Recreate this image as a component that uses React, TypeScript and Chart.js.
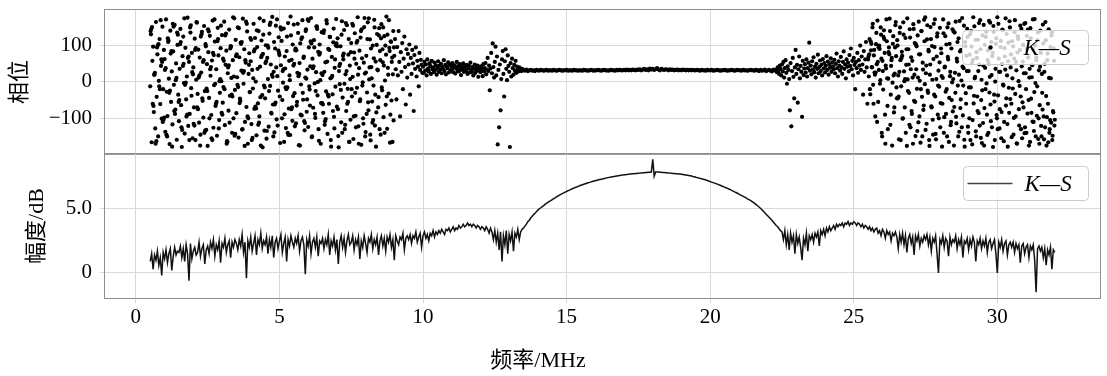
import React, { useEffect, useRef } from "react";
import { Chart, registerables } from "chart.js";

Chart.register(...registerables);

// ---------------- data ----------------
const SERIES_LABEL = "K\u2014S";
const X_TITLE = "频率/MHz";
const PHASE_TITLE = "相位";
const MAG_TITLE = "幅度/dB";

const X_MIN = -1.075;
const X_MAX = 33.575;
const X_TICKS = [0, 5, 10, 15, 20, 25, 30];

const PHASE_MIN = -198;
const PHASE_MAX = 198;
const PHASE_TICKS = [-100, 0, 100];
const PHASE_TICK_LABELS = ["\u2212100", "0", "100"];

const MAG_MIN = -1.95;
const MAG_MAX = 9.27;
const MAG_TICKS = [0, 5];
const MAG_TICK_LABELS = ["0", "5.0"];

// phase (deg), sampled on a regular frequency grid (MHz)
const FINE_STEP = 0.025;
const COARSE_STEP = 0.05;

const PHASE_A_START = 0.5; // 0.5 – 8.975 MHz, fully scattered
const phaseA = [
  -12, 131, -166, 58, 97, -83, 20, -128, 165, -41, 76, -150, 3, 118, -61, 44, -101, 152, -20, 88,
  63, -137, 172, -27, -94, 110, 9, -171, 141, -55, 29, -117, 84, -8, 157, -76, 51, -159, 102, -35,
  -108, 36, 146, -64, -179, 71, 125, -3, -142, 94, -48, 15, 177, -121, 55, -88, 136, -17, 80, -155,
  40, -70, 119, -160, 6, 163, -33, 89, -112, 67, -145, 26, 138, -52, -98, 154, -25, 104, -132, 49,
  -176, 82, -44, 127, 17, -91, 59, 169, -126, -9, 111, -66, 35, -148, 149, 73, -105, -30, 93, 2,
  129, -57, -14, 166, -119, 47, 86, -163, 24, -79, 144, -38, 99, 11, -140, 60, -100, 175, -22, 116,
  -86, 13, 150, -153, 68, -46, 108, 31, -131, 174, -5, 90, -110, 53, -69, 139, -170, 22, 79, -28,
  57, -116, 33, -18, 160, -74, 121, 1, -147, 96, -59, 140, -95, 42, -175, 114, -36, 77, 168, -134,
  -45, 101, -156, 66, 8, -123, 133, -11, 48, -87, 179, -62, 28, -139, 92, 155, -103, 16, -24, 123,
  74, -168, 46, 113, -50, -2, 147, -89, 37, -127, 85, -15, 162, -73, 18, -146, 128, 61, -107, -39,
  158, -31, 87, -114, -65, 25, 135, -174, 52, 106, -7, -92, 170, -49, 70, -133, 12, 145, -82, 34,
  -124, 95, -21, 43, 176, -152, 64, -71, 115, -4, -99, 27, 153, -37, 83, -162, 103, 5, -58, 137,
  19, -85, 142, -118, 54, -26, 161, -143, 91, -60, 124, 10, -178, 69, -34, 109, -96, 39, -13, 173,
  -68, 120, -149, 30, -6, 98, -111, 167, -43, 62, 143, -130, 21, -80, 156, -19, 75, -165, 45, -104,
  107, -40, 14, -157, 81, 134, -93, 50, -16, 178, -122, 38, -53, 122, -173, 65, -1, -115, 151, 23,
  -138, 72, -29, 164, -78, 7, 117, -161, 41, -54, 100, -10, 171, -120, 56, -84, 132, 32, -42, 148,
  85, -145, 159, -23, 54, -97, 126, 4, -63, 180, -129, 39, -32, 94, -167, 112, -51, 67, 21, -106,
];

const PHASE_A2_START = 0.5125; // interleaved bins, 0.5125 – 8.9875 MHz
const phaseA2 = [
  140, 146, 151, -60, -66, 20, 25, -170, -163, 95, 101, 104, -12, -20, 170, 62, 55, -110, -104, -98,
  33, 38, -145, -150, 120, 114, -30, -24, 78, 85, -178, 160, 152, -80, -88, 5, 11, 136, 130, -55,
  -50, 104, 110, -125, -132, 44, 50, 175, -8, -2, -95, -90, 66, 70, -160, 150, 156, -38, 27, 21,
  -115, -120, 88, 93, 165, -70, -75, 12, 18, -175, 125, 131, -45, 55, 60, -140, -134, 98, -18, -25,
  145, 139, -100, 35, 41, -155, -160, 80, 74, 172, -5, -60, -55, 112, 118, -128, 2, 8, 155, -85,
  -90, 64, 58, -20, 128, 133, -170, -165, 40, 46, -112, 92, 97, -35, -40, 178, 15, -148, -143, 71,
  76, -8, -14, 148, -58, -52, 105, 110, -130, 25, 30, -176, 60, 166, 160, -95, -100, 47, -28, 121,
  116, -160, -154, 10, 84, 90, -68, -73, 142, 36, -118, -112, 175, -42, 68, 73, -180, 130, -10, -15,
  52, 57, -135, 100, 94, -25, 157, 163, -85, 20, 14, -150, 110, -62, -57, 40, 172, -120, 86, 80,
  -40, 150, 144, -100, 30, 35, -165, 70, -15, -20, 125, -140, -146, 58, 5, 180, -75, -70, 103, 45,
  50, -122, 92, 87, -55, 160, 16, 22, -175, -90, 118, 123, -30, 66, -108, -113, 140, 9, -48, 172,
  168, -12, -65, 112, 106, -150, 38, 43, 95, -88, -25, 152, 146, 0, -130, 75, 80, -170, 24, -58,
  -62, 135, 28, -108, -102, 170, 56, -35, -40, 88, 124, -160, 12, 17, -80, 147, -128, 62, 100, 106,
  98, -75, -180, 44, 50, -22, 130, -140, 72, 78, -5, -118, 162, 30, -60, -55, 118, -165, 8, 82,
  -20, 160, 155, -95, 64, -30, -125, 108, 113, 20, -170, 86, -48, 140, 145, -10, -100, 53, 176, -150,
  26, -88, 118, -56, 175, 40, -145, 92, 10, -112, -105, 65, 150, -35, -178, 102, 34, -70, 128, -130,
  60, 120, -15, 90, 150, 45, -140, 100, 75, -40, 130, 20, 170, 85, -90, 110, 55, -165, 140, 95,
];

const PHASE_B_START = 9.0; // 9.0 – 9.975 MHz, converging
const phaseB = [
  72, 118, 35, -48, 96, 18, 140, 55, -95, 82, 28, 107, -20, 64, 125, 41, -62, 90, 12, 77,
  48, 103, -35, 66, 22, 88, 51, -80, 74, 36, 95, 15, 58, 42, -12, 80, 33, 61, 47, 25,
];

const PHASE_C_START = 10.0; // 10.0 – 13.475 MHz, clustered
const phaseC = [
  42, 25, 55, 31, 48, 18, 62, 37, 29, 51, 44, 22, 58, 35, 40, 27, 53, 33, 46, 20,
  39, 57, 28, 45, 34, 50, 24, 41, 36, 60, 30, 47, 21, 43, 38, 54, 26, 49, 32, 44,
  35, 52, 27, 40, 46, 23, 38, 55, 31, 43, 29, 49, 36, 19, 42, 33, 51, 28, 39, 45,
  30, 47, 22, 37, 44, 26, 53, 34, 28, 41, 18, 36, 48, 25, 39, 31, 45, 14, 33, 40,
  27, 43, 35, 16, 49, 29, 38, 52, 21, 34, 66, 30, 45, -23, 37, 80, 24, 106, 41, 12,
  55, 97, 18, 70, -172, 33, -125, 48, -78, 8, 62, 85, 22, -40, 57, 90, 36, 5, 73, 44,
  28, -179, 52, 15, 64, 38, 20, 47, 31, 58, 25, 42, 35, 29, 40, 33, 37, 30, 36, 32,
];

const PHASE_D_START = 13.5; // 13.5 – 22.25 MHz, stable
const phaseD = [
  33, 31, 34, 30, 32, 33, 31, 32, 30, 33, 32, 31, 33, 32, 31, 32, 33, 31, 32, 32,
  31, 33, 32, 31, 32, 33, 32, 31, 32, 32, 33, 31, 32, 32, 31, 33, 32, 32, 31, 32,
  32, 31, 33, 32, 32, 31, 32, 33, 32, 31, 32, 32, 33, 32, 31, 32, 33, 32, 32, 31,
  32, 33, 32, 32, 31, 33, 32, 33, 32, 32, 33, 32, 34, 32, 33, 32, 34, 33, 32, 34,
  33, 35, 32, 34, 36, 33, 35, 32, 37, 34, 36, 33, 35, 38, 34, 32, 36, 34, 33, 35,
  34, 32, 35, 33, 34, 32, 33, 34, 32, 33, 32, 34, 33, 32, 33, 32, 33, 32, 33, 32,
  32, 33, 32, 31, 33, 32, 32, 31, 33, 32, 32, 33, 31, 32, 32, 33, 32, 31, 32, 32,
  33, 32, 31, 32, 32, 33, 32, 31, 32, 33, 32, 32, 31, 33, 32, 32, 31, 32, 33, 32,
  32, 31, 33, 32, 30, 33, 31, 32, 34, 30, 32, 33, 31, 29, 34, 32,
];

const PHASE_E_START = 22.3; // 22.3 – 25.475 MHz, spreading
const phaseE = [
  34, 27, 40, 31, 22, 45, 36, 18, 48, 29, 55, 12, 38, 60, 25, -5, 43, 33, 8, -78,
  52, -122, 30, 66, 14, -45, 40, 88, 22, 47, -57, 35, 70, 10, 44, 28, -96, 58, 19, 37,
  49, 26, 62, 15, 38, 53, 108, 31, 45, 21, 57, 34, 68, 27, 42, 12, 50, 36, 75, 24,
  41, 59, 30, 47, 18, 63, 37, 52, 26, 44, 71, 33, 56, 20, 48, 39, 65, 28, 54, 43,
  35, 61, 24, 50, 78, 38, 15, 57, 45, 31, 69, 40, 22, 55, 84, 36, 48, 10, 62, 42,
  53, 29, 74, 44, 92, 35, 58, 18, 66, 47, -20, 55, 38, 80, 25, 60, 45, 100, 33, 70,
  48, -35, 85, 28, 62, 110, 40, -60,
];

const PHASE_F_START = 25.5; // 25.5 – 32.0 MHz, scattered
const phaseF = [
  62, 15, 118, -34, 87, 41, 150, -8, 73, 26, -95, 104, 49, 169, -55, 33, 91, 5, 130, -140,
  58, -21, 142, 80, -170, 37, 112, -66, 9, 95, 174, -118, 44, 66, -2, 126, -84, 23, 156, 71,
  -45, 100, 18, -158, 135, 60, -12, 83, -101, 164, 29, -70, 121, 47, -176, 7, 90, -30, 145, -125,
  68, -88, 12, 159, -52, 107, -149, 35, -19, 128, -111, 76, 3, -167, 140, -41, 53, -77, 171, -6,
  -132, 45, 117, -24, 88, -160, 20, 151, -67, 99, -104, 63, -35, 172, -143, 8, 125, -90, 31, -13,
  149, -58, 79, -178, 11, 134, -97, 42, -27, 103, -150, 69, 161, -44, 16, -119, 92, -1, -81, 139,
  -69, 25, 166, -114, 56, -10, 120, -137, 84, -48, 4, 176, -92, 38, -159, 110, -31, 72, 146, -123,
  30, -100, 131, -15, 97, -172, 61, -59, 153, 14, -136, 82, -40, 116, -86, 48, 170, -154, 6, -23,
  -113, 157, -72, 39, 124, -4, -146, 87, 51, -29, 163, -108, 19, 71, -179, 138, -54, 1, 105, -91,
  178, -37, 64, -128, 28, 113, -83, 144, -7, -163, 93, 34, -65, 132, -116, 57, -16, 167, -47, 76,
  -152, 10, 98, -99, 137, -33, 55, -169, 81, 118, -75, -11, 155, -130, 43, -56, 102, 24, -141, 162,
  -20, 127, -87, 67, -175, 36, 148, -46, 13, -109, 89, -135, 173, -3, 60, -93, 115, -157, 32, -64,
  141, -121, 22, -76, 106, -158, 50, 165, -39, -97, 78, -166, 11, -130, 96, -112, 137, -148, -84, 58,
  -104,
];

const PHASE_F2_START = 25.5125; // interleaved bins, 25.5125 – 31.9875 MHz
const phaseF2 = [
  70, 76, -20, 112, 105, 40, 160, -60, 88, 20, 26, 135, -110, 55, 95, 100, -5, 150, 64, -150,
  30, 124, 118, -90, 45, 172, 10, -130, 82, 76, 140, -35, 60, -175, 105, 18, -70, 95, 165, -15,
  115, -45, -40, 28, 150, -160, 66, 72, -100, 130, 2, 8, -140, 90, 175, -25, 48, -118, 122, 35,
  -80, 58, -170, 146, 20, -55, 104, 98, -135, 12, 166, -95, 76, -20, 140, -150, 34, -65, 112, 178,
  24, -115, 156, -30, 84, -176, 48, 118, -70, 6, -145, 160, 96, -40, -158, 70, 134, -10, -100, 54,
  -125, 92, 16, -60, 172, -140, 40, 126, -88, -20, 150, 62, -165, 105, 28, -110, -50, 145, 8, -175,
  136, -30, -96, 64, 110, -150, 20, 168, -72, 88, -125, 42, -10, 155, -178, 98, -60, 30, 124, -140,
  -15, 75, -160, 140, 52, -105, 178, -38, 10, 116, -150, 66, -80, 30, 162, -120, 90, -50, -168, 128,
  45, -175, 102, -20, 138, -90, 60, -140, 168, 14, -62, 110, -125, 80, 154, -35, -160, 36, 120, -100,
  -130, 160, 28, -75, 96, -155, 50, 142, -10, -110, 70, 175, -45, 18, -178, 108, -85, 150, 40, -60,
  112, -18, -145, 64, 170, -95, 32, -170, 126, 2, -120, 88, -40, 146, -155, 56, -70, 160, -125, 24,
  -140, 90, 144, -50, 12, -165, 120, -85, 46, 172, -110, -28, 100, -150, 68, -12, 136, -100, -170, 42,
  80, -150, -30, 158, -95, 28, -125, 115, -175, 60, -60, 145, -140, -105, 10, 128, -160, -80, 92, -120,
];

// magnitude (dB), 0.05 MHz grid
const MAG_A_START = 0.5; // 0.5 – 10.45
const magA = [
  0.9, 1.5, 0.3, 1.4, 1.0, 1.7, 0.6, 1.2, -0.2, 1.6, 1.1, 1.8, 0.8, 1.5, 1.9, 0.2, 1.3, 2.0, 1.4, 1.7,
  1.6, 2.1, 1.2, 1.9, 0.9, 2.2, 1.5, -0.6, 2.3, 1.1, 1.7, 2.0, 1.4, 1.6, 2.4, 1.3, 1.9, 2.2, 0.7, 1.8,
  2.1, 1.5, 2.4, 1.9, 2.6, 1.3, 2.2, 1.8, 2.5, 0.8, 2.3, 2.0, 2.7, 1.6, 2.2, 2.5, 1.2, 2.4, 2.0, 2.6,
  2.3, 1.8, 2.6, 2.1, 3.0, 1.6, 2.4, -0.4, 2.5, 2.0, 2.8, 1.7, 2.3, 2.9, 1.4, 2.6, 2.2, 3.1, 1.9, 2.5,
  2.2, 2.8, 1.5, 2.6, 2.0, 2.9, 1.2, 2.4, 2.7, 1.9, 2.5, 3.0, 1.6, 2.3, 2.8, 0.9, 2.6, 2.1, 2.9, 2.4,
  2.0, 2.7, 2.3, 2.9, 1.7, 2.5, 2.8, 2.2, -0.1, 2.6, 2.1, 2.9, 1.5, 2.4, 2.7, 2.0, 2.8, 1.3, 2.5, 2.3,
  2.7, 1.9, 2.6, 2.2, 3.0, 1.4, 2.5, 2.1, 2.8, 1.8, 2.6, 0.7, 2.4, 2.9, 2.0, 2.7, 1.6, 2.5, 3.0, 2.2,
  2.4, 2.9, 1.8, 2.6, 2.2, 2.8, 1.1, 2.5, 2.0, 2.9, 2.3, 1.6, 2.7, 2.4, 3.0, 1.9, 2.6, 2.2, 2.8, 1.4,
  2.5, 2.9, 2.1, 2.7, 1.7, 2.8, 2.4, 3.0, 2.0, 2.6, 1.0, 2.9, 2.5, 2.2, 2.8, 2.6, 3.1, 1.8, 2.7, 2.9,
  2.6, 3.0, 2.3, 2.9, 2.7, 3.2, 2.4, 2.8, 3.1, 2.0, 2.9, 3.2, 2.7, 3.0, 2.5, 3.1, 2.9, 3.3, 2.8, 3.2,
];

const MAG_B_START = 10.5; // 10.5 – 13.45
const magB = [
  3.0, 3.3, 3.1, 3.4, 3.2, 3.0, 3.4, 3.3, 3.5, 3.2, 3.4, 3.6, 3.3, 3.5, 3.4, 3.7, 3.5, 3.6, 3.8, 3.6,
  3.7, 3.9, 3.7, 3.8, 3.6, 3.8, 3.7, 3.5, 3.7, 3.6, 3.4, 3.6, 3.5, 3.3, 3.6, 3.4, 3.1, 3.5, 3.2, 2.6,
  3.3, 2.4, 3.1, 1.8, 3.2, 0.9, 2.9, 2.2, 3.3, 1.5, 3.0, 2.5, 3.2, 1.7, 3.1, 2.8, 3.4, 2.6, 3.2, 3.4,
];

const MAG_C_START = 13.5; // 13.5 – 22.45, smooth dome
const magC = [
  3.5, 3.65, 3.8, 4.0, 4.1, 4.3, 4.4, 4.55, 4.65, 4.78, 4.9, 5.0, 5.08, 5.17, 5.25, 5.34, 5.42, 5.5, 5.57, 5.64,
  5.72, 5.79, 5.86, 5.93, 6.0, 6.06, 6.12, 6.18, 6.24, 6.3, 6.35, 6.41, 6.46, 6.51, 6.56, 6.61, 6.66, 6.7, 6.75, 6.79,
  6.83, 6.87, 6.91, 6.95, 6.99, 7.03, 7.06, 7.1, 7.13, 7.16, 7.19, 7.22, 7.25, 7.28, 7.31, 7.33, 7.36, 7.38, 7.41, 7.43,
  7.45, 7.48, 7.5, 7.52, 7.54, 7.56, 7.58, 7.6, 7.62, 7.63, 7.65, 7.66, 7.68, 7.69, 7.71, 7.72, 7.73, 7.74, 7.75, 7.76,
  7.77, 7.78, 7.79, 7.8, 7.81, 7.82, 7.83, 7.84, 7.85, 7.86, 8.85, 7.55, 7.87, 7.86, 7.86, 7.85, 7.84, 7.83, 7.82, 7.81,
  7.8, 7.79, 7.78, 7.77, 7.76, 7.75, 7.74, 7.73, 7.72, 7.71, 7.69, 7.67, 7.65, 7.63, 7.61, 7.59, 7.57, 7.55, 7.52, 7.5,
  7.46, 7.43, 7.4, 7.37, 7.34, 7.31, 7.28, 7.24, 7.2, 7.16, 7.12, 7.08, 7.04, 7.0, 6.96, 6.92, 6.87, 6.83, 6.78, 6.74,
  6.69, 6.64, 6.59, 6.54, 6.49, 6.43, 6.38, 6.32, 6.27, 6.21, 6.15, 6.09, 6.03, 5.97, 5.91, 5.85, 5.78, 5.72, 5.65, 5.58,
  5.5, 5.42, 5.33, 5.24, 5.14, 5.04, 4.93, 4.82, 4.7, 4.58, 4.46, 4.34, 4.22, 4.1, 3.97, 3.84, 3.7, 3.6, 3.45, 3.3,
];

const MAG_D_START = 22.5; // 22.5 – 25.45
const magD = [
  3.2, 2.6, 3.3, 2.2, 3.0, 1.8, 3.1, 2.4, 2.9, 1.5, 3.0, 2.3, 2.8, 2.0, 1.0, 2.7, 2.2, 3.1, 1.7, 2.9,
  2.6, 3.0, 2.4, 3.1, 2.8, 3.2, 2.1, 3.3, 3.0, 3.4, 2.9, 3.5, 3.2, 3.6, 3.3, 3.5, 3.7, 3.4, 3.8, 3.6,
  3.8, 3.7, 3.9, 3.6, 3.9, 3.8, 4.0, 3.7, 3.9, 3.8, 4.0, 3.9, 3.7, 3.9, 3.8, 3.6, 3.8, 3.5, 3.7, 3.6,
];

const MAG_E_START = 25.5; // 25.5 – 32.0
const magE = [
  3.4, 3.6, 3.3, 3.5, 3.2, 3.4, 3.5, 3.1, 3.3, 2.9, 3.4, 3.2, 2.7, 3.3, 3.0, 3.2, 2.5, 3.1, 2.9, 3.2,
  2.8, 1.9, 3.0, 2.4, 3.1, 2.2, 2.9, 1.6, 2.7, 3.0, 2.3, 2.8, 1.4, 2.9, 2.5, 3.0, 2.1, 2.7, 2.4, 2.9,
  2.6, 3.0, 2.2, 2.8, 1.7, 2.7, 2.4, 2.9, 1.5, 0.0, 2.6, 2.3, 2.9, 2.0, 2.7, 2.5, 1.3, 2.8, 2.2, 2.6,
  2.4, 2.9, 1.9, 2.6, 2.2, 2.8, 1.2, 2.5, 2.3, 2.7, 1.8, 2.6, 2.1, 2.8, 2.4, 0.9, 2.5, 2.2, 2.7, 1.9,
  2.5, 2.1, 2.7, 1.6, 2.4, 2.6, 1.9, 2.3, 2.6, 1.5, 0.0, 2.4, 2.0, 2.6, 1.7, 2.3, 2.5, 1.4, 2.2, 2.4,
  2.0, 2.4, 1.6, 2.3, 1.9, 2.2, 0.8, 2.1, 2.3, 1.5, 2.0, 2.2, 1.2, 2.1, 1.8, 2.2, 1.0, -1.5, 1.9, 2.1,
  1.7, 2.0, 1.2, 1.9, 0.6, 1.8, 1.4, 2.0, 0.3, 1.8, 1.6,
];

// ---------------- styling ----------------
const SERIF = "'Liberation Serif', 'DejaVu Serif', serif";
const CJK = "'Liberation Serif', 'Noto Sans CJK SC', serif";
const GRID_COLOR = "#d9d9d9";
const FRAME_COLOR = "#8f8f8f";
const TICK_FONT = { family: SERIF, size: 21 };

type Seg = { start: number; step: number; values: number[] };

function toPoints(segs: Seg[]) {
  const pts: { x: number; y: number }[] = [];
  segs.forEach((s) => {
    s.values.forEach((v, i) => {
      pts.push({ x: Math.round((s.start + i * s.step) * 10000) / 10000, y: v });
    });
  });
  return pts;
}

const phasePoints = toPoints([
  { start: PHASE_A_START, step: FINE_STEP, values: phaseA },
  { start: PHASE_A2_START, step: FINE_STEP, values: phaseA2 },
  { start: PHASE_B_START, step: FINE_STEP, values: phaseB },
  { start: PHASE_C_START, step: FINE_STEP, values: phaseC },
  { start: PHASE_D_START, step: COARSE_STEP, values: phaseD },
  { start: PHASE_E_START, step: FINE_STEP, values: phaseE },
  { start: PHASE_F_START, step: FINE_STEP, values: phaseF },
  { start: PHASE_F2_START, step: FINE_STEP, values: phaseF2 },
]);

const magPoints = toPoints([
  { start: MAG_A_START, step: COARSE_STEP, values: magA },
  { start: MAG_B_START, step: COARSE_STEP, values: magB },
  { start: MAG_C_START, step: COARSE_STEP, values: magC },
  { start: MAG_D_START, step: COARSE_STEP, values: magD },
  { start: MAG_E_START, step: COARSE_STEP, values: magE },
]);

// frame + boxed legend inside the axes
const panelPlugin = {
  id: "panelDeco",
  afterDatasetsDraw(chart: any, _args: any, opts: any) {
    const { ctx, chartArea: a } = chart;
    ctx.save();
    ctx.strokeStyle = FRAME_COLOR;
    ctx.lineWidth = 1;
    ctx.strokeRect(a.left - 0.5, a.top - 0.5, a.right - a.left + 1, a.bottom - a.top + 1);
    const ds = chart.data.datasets[0];
    const x0 = Math.round(a.right - opts.right - opts.width) + 0.5;
    const y0 = Math.round(a.top + opts.top) + 0.5;
    ctx.beginPath();
    if (ctx.roundRect) ctx.roundRect(x0, y0, opts.width, opts.height, 4);
    else ctx.rect(x0, y0, opts.width, opts.height);
    ctx.fillStyle = "rgba(255,255,255,0.8)";
    ctx.fill();
    ctx.strokeStyle = "#cccccc";
    ctx.lineWidth = 1;
    ctx.stroke();
    const cy = y0 + opts.height / 2;
    if (opts.kind === "dot") {
      ctx.beginPath();
      ctx.arc(x0 + 28, cy, 2.2, 0, Math.PI * 2);
      ctx.fillStyle = "#000";
      ctx.fill();
    } else {
      ctx.beginPath();
      ctx.moveTo(x0 + 4, cy);
      ctx.lineTo(x0 + 49, cy);
      ctx.strokeStyle = "#444";
      ctx.lineWidth = 1.6;
      ctx.stroke();
    }
    ctx.fillStyle = "#000";
    ctx.font = "italic 23px " + SERIF;
    ctx.textAlign = "left";
    ctx.textBaseline = "middle";
    ctx.fillText(ds.label, x0 + 61, cy + 1);
    if (opts.xTitle) {
      ctx.font = "22px " + CJK;
      ctx.textAlign = "center";
      ctx.textBaseline = "middle";
      ctx.fillText(opts.xTitle, a.left + opts.xTitleDx, a.bottom + opts.xTitleDy);
    }
    ctx.restore();
  },
};

const noPadX = (s: any) => {
  s.paddingLeft = 0;
  s.paddingRight = 0;
};
const noPadY = (s: any) => {
  s.paddingTop = 0;
  s.paddingBottom = 0;
};

export default function App() {
  const topRef = useRef<HTMLCanvasElement>(null);
  const botRef = useRef<HTMLCanvasElement>(null);

  useEffect(() => {
    const xBase = {
      type: "linear" as const,
      min: X_MIN,
      max: X_MAX,
      afterBuildTicks: (s: any) => {
        s.ticks = X_TICKS.map((v) => ({ value: v }));
      },
      border: { display: false },
    };

    const top = new Chart(topRef.current!, {
      type: "scatter",
      data: {
        datasets: [
          {
            label: SERIES_LABEL,
            data: phasePoints,
            pointRadius: 2.1,
            pointHoverRadius: 2.1,
            backgroundColor: "#000",
            borderWidth: 0,
          },
        ],
      },
      options: {
        animation: false,
        responsive: false,
        events: [],
        layout: { padding: { top: 10, right: 7, bottom: 2, left: 0 } },
        plugins: {
          legend: { display: false },
          tooltip: { enabled: false },
          panelDeco: { top: 20, right: 12, width: 126, height: 34, kind: "dot" },
        } as any,
        scales: {
          x: {
            ...xBase,
            ticks: { display: false },
            grid: { color: GRID_COLOR, drawTicks: false },
            afterFit: (s: any) => {
              s.height = 0;
              noPadX(s);
            },
          },
          y: {
            min: PHASE_MIN,
            max: PHASE_MAX,
            afterBuildTicks: (s: any) => {
              s.ticks = PHASE_TICKS.map((v) => ({ value: v }));
            },
            ticks: {
              font: TICK_FONT,
              color: "#000",
              padding: 8,
              callback: (_v: any, i: number) => PHASE_TICK_LABELS[i],
            },
            grid: { color: GRID_COLOR, tickLength: 5, tickColor: GRID_COLOR },
            border: { display: false },
            title: {
              display: true,
              text: PHASE_TITLE,
              font: { family: CJK, size: 22 },
              color: "#000",
              padding: { top: 7, bottom: 0 },
            },
            afterFit: (s: any) => {
              s.width = 105;
              noPadY(s);
            },
          },
        },
      } as any,
      plugins: [panelPlugin],
    });

    const bot = new Chart(botRef.current!, {
      type: "line",
      data: {
        datasets: [
          {
            label: SERIES_LABEL,
            data: magPoints,
            borderColor: "#111",
            borderWidth: 1.5,
            pointRadius: 0,
            tension: 0,
            fill: false,
          },
        ],
      },
      options: {
        animation: false,
        responsive: false,
        events: [],
        layout: { padding: { top: 4, right: 7, bottom: 0, left: 0 } },
        plugins: {
          legend: { display: false },
          tooltip: { enabled: false },
          panelDeco: {
            top: 11.5,
            right: 12,
            width: 125,
            height: 34,
            kind: "line",
            xTitle: X_TITLE,
            xTitleDx: 433,
            xTitleDy: 63,
          },
        } as any,
        scales: {
          x: {
            ...xBase,
            ticks: { font: TICK_FONT, color: "#000", padding: 2, maxRotation: 0 },
            grid: { color: GRID_COLOR, tickLength: 5, tickColor: GRID_COLOR },
            afterFit: (s: any) => {
              s.height = 78;
              noPadX(s);
            },
          },
          y: {
            min: MAG_MIN,
            max: MAG_MAX,
            afterBuildTicks: (s: any) => {
              s.ticks = MAG_TICKS.map((v) => ({ value: v }));
            },
            ticks: {
              font: TICK_FONT,
              color: "#000",
              padding: 8,
              callback: (_v: any, i: number) => MAG_TICK_LABELS[i],
            },
            grid: { color: GRID_COLOR, tickLength: 5, tickColor: GRID_COLOR },
            border: { display: false },
            title: {
              display: true,
              text: MAG_TITLE,
              font: { family: CJK, size: 22 },
              color: "#000",
              padding: { top: 24, bottom: 0 },
            },
            afterFit: (s: any) => {
              s.width = 105;
              noPadY(s);
            },
          },
        },
      } as any,
      plugins: [panelPlugin],
    });

    return () => {
      top.destroy();
      bot.destroy();
    };
  }, []);

  return (
    <div style={{ position: "absolute", left: 0, top: 0, width: 1107, height: 376, background: "#fff" }}>
      <canvas
        ref={topRef}
        width={1107}
        height={156}
        style={{ position: "absolute", left: 0, top: 0, width: 1107, height: 156 }}
      />
      <canvas
        ref={botRef}
        width={1107}
        height={226}
        style={{ position: "absolute", left: 0, top: 150, width: 1107, height: 226 }}
      />
    </div>
  );
}
